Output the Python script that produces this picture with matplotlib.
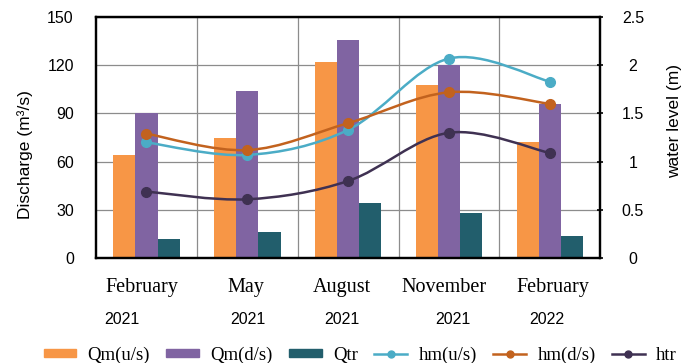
import numpy as np
import matplotlib
matplotlib.use("Agg")
import matplotlib.pyplot as plt
from matplotlib.path import Path
from matplotlib.patches import PathPatch, Patch
from matplotlib.lines import Line2D

months = ["February", "May", "August", "November", "February"]
years = ["2021", "2021", "2021", "2021", "2022"]

# discharge (m3/s)
qm_us = [64, 75, 122, 108, 72]
qm_ds = [90, 104, 136, 120, 96]
qtr = [12, 16, 34, 28, 14]

# water level (m)
hm_us = [1.20, 1.07, 1.33, 2.07, 1.83]
hm_ds = [1.29, 1.12, 1.40, 1.72, 1.60]
htr = [0.69, 0.61, 0.80, 1.30, 1.09]

c_orange = "#F79646"
c_purple = "#8064A2"
c_teal = "#225E6C"
c_cyan = "#4BACC6"
c_brown = "#C2621E"
c_dark = "#3F3152"

sans = "Liberation Sans"
serif = "Liberation Serif"


def smooth_path(xs, ys):
    # cubic bezier through the points, catmull-rom style tangents
    pts = list(zip(xs, ys))
    verts = [pts[0]]
    codes = [Path.MOVETO]
    n = len(pts)
    for i in range(n - 1):
        p0 = np.array(pts[max(i - 1, 0)])
        p1 = np.array(pts[i])
        p2 = np.array(pts[i + 1])
        p3 = np.array(pts[min(i + 2, n - 1)])
        c1 = p1 + (p2 - p0) / 6
        c2 = p2 - (p3 - p1) / 6
        verts += [tuple(c1), tuple(c2), tuple(p2)]
        codes += [Path.CURVE4] * 3
    return Path(verts, codes)


fig = plt.figure(figsize=(6.86, 3.63), dpi=100)
ax = fig.add_axes([0.140, 0.289, 0.735, 0.664])

x = np.arange(len(months))
w = 0.22
ax.bar(x - w, qm_us, w, color=c_orange, zorder=2)
ax.bar(x, qm_ds, w, color=c_purple, zorder=2)
ax.bar(x + w, qtr, w, color=c_teal, zorder=2)

ax.set_xlim(-0.5, len(months) - 0.5)
ax.set_ylim(0, 150)
ax.set_yticks(np.arange(0, 151, 30))
ax.set_xticks(x)
ax.set_xticklabels([])
ax.set_xticks(x[:-1] + 0.5, minor=True)
ax.tick_params(axis="x", which="both", length=0)
ax.tick_params(axis="y", length=0, pad=16, labelsize=11.5)
for t in ax.get_yticklabels():
    t.set_fontfamily(sans)
ax.set_axisbelow(True)
ax.grid(axis="y", color="#8c8c8c", lw=0.9)
ax.grid(axis="x", which="minor", color="#8c8c8c", lw=0.9)
for s in ax.spines.values():
    s.set_linewidth(1.6)
    s.set_color("black")

ax.set_ylabel("Discharge (m³/s)", fontfamily=sans, fontsize=12.5)
ax.yaxis.set_label_coords(-0.125, 0.43)

# month / year labels under the categories
month_shift = [-0.045, -0.01, -0.065, -0.05, 0.035]
year_shift = [-0.24, 0.01, -0.065, 0.04, -0.025]
tr = ax.get_xaxis_transform()
for i in range(len(months)):
    ax.text(x[i] + month_shift[i], -0.12, months[i], transform=tr,
            ha="center", va="center", fontfamily=serif, fontsize=14.5)
    ax.text(x[i] + year_shift[i], -0.253, years[i], transform=tr,
            ha="center", va="center", fontfamily=sans, fontsize=11.5)

ax2 = ax.twinx()
ax2.set_ylim(0, 2.5)
ax2.set_yticks(np.arange(0, 2.51, 0.5))
ax2.set_yticklabels(["0", "0.5", "1", "1.5", "2", "2.5"])
ax2.tick_params(axis="y", direction="inout", length=5, width=1.2, pad=21,
                labelsize=11.5)
for t in ax2.get_yticklabels():
    t.set_fontfamily(sans)
    t.set_horizontalalignment("center")
for s in ax2.spines.values():
    s.set_linewidth(1.6)
ax2.set_ylabel("water level (m)", fontfamily=sans, fontsize=12.5)
ax2.yaxis.set_label_coords(1.133, 0.57)

for vals, col in [(hm_us, c_cyan), (hm_ds, c_brown), (htr, c_dark)]:
    ax2.add_patch(PathPatch(smooth_path(x, vals), facecolor="none",
                            edgecolor=col, lw=1.8, zorder=3))
    ax2.plot(x, vals, ls="none", marker="o", ms=7, color=col, zorder=4)

handles = [
    Patch(color=c_orange), Patch(color=c_purple), Patch(color=c_teal),
    Line2D([], [], color=c_cyan, lw=1.8, marker="o", ms=5),
    Line2D([], [], color=c_brown, lw=1.8, marker="o", ms=5),
    Line2D([], [], color=c_dark, lw=1.8, marker="o", ms=5),
]
labels = ["Qm(u/s)", "Qm(d/s)", "Qtr", "hm(u/s)", "hm(d/s)", "htr"]
fig.legend(handles, labels, loc="center", bbox_to_anchor=(0.525, 0.022),
           ncol=6, frameon=False, prop={"family": serif, "size": 13.5},
           handlelength=1.75, handleheight=0.3, handletextpad=0.6,
           columnspacing=0.87, borderpad=0)

fig.savefig("out.png", dpi=100)
